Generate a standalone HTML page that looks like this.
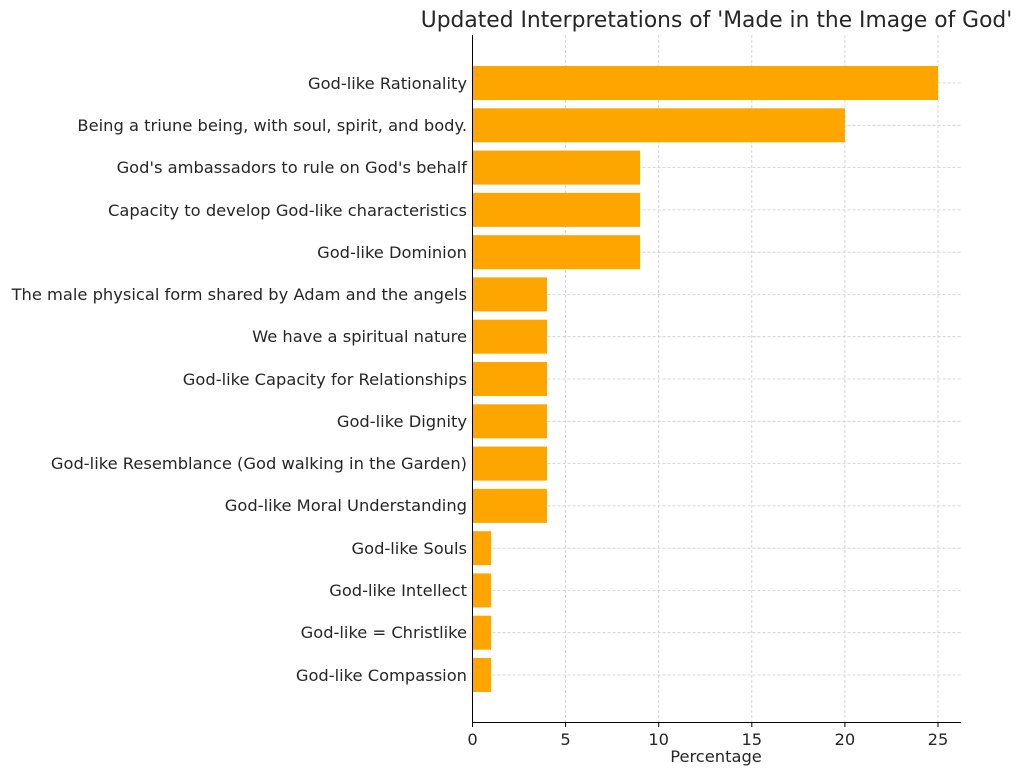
<!DOCTYPE html>
<html><head><meta charset="utf-8"><style>
html,body{margin:0;padding:0;background:#fff}
svg{display:block}
text{font-family:"DejaVu Sans","Liberation Sans",sans-serif;fill:#262626}
</style></head><body>
<svg width="1023" height="775" xmlns="http://www.w3.org/2000/svg">
<rect width="1023" height="775" fill="#fff"/>
<g stroke="#cccccc" stroke-width="0.8" stroke-dasharray="3,2">
<line x1="565.6" y1="35" x2="565.6" y2="722"/>
<line x1="658.7" y1="35" x2="658.7" y2="722"/>
<line x1="751.8" y1="35" x2="751.8" y2="722"/>
<line x1="844.9" y1="35" x2="844.9" y2="722"/>
<line x1="938" y1="35" x2="938" y2="722"/>
<line x1="472.5" y1="83" x2="961" y2="83"/>
<line x1="472.5" y1="125.3" x2="961" y2="125.3"/>
<line x1="472.5" y1="167.6" x2="961" y2="167.6"/>
<line x1="472.5" y1="209.9" x2="961" y2="209.9"/>
<line x1="472.5" y1="252.2" x2="961" y2="252.2"/>
<line x1="472.5" y1="294.4" x2="961" y2="294.4"/>
<line x1="472.5" y1="336.7" x2="961" y2="336.7"/>
<line x1="472.5" y1="379" x2="961" y2="379"/>
<line x1="472.5" y1="421.3" x2="961" y2="421.3"/>
<line x1="472.5" y1="463.6" x2="961" y2="463.6"/>
<line x1="472.5" y1="505.9" x2="961" y2="505.9"/>
<line x1="472.5" y1="548.2" x2="961" y2="548.2"/>
<line x1="472.5" y1="590.4" x2="961" y2="590.4"/>
<line x1="472.5" y1="632.7" x2="961" y2="632.7"/>
<line x1="472.5" y1="675" x2="961" y2="675"/>
</g>
<g fill="#ffa500">
<rect x="472.5" y="66" width="465.5" height="34"/>
<rect x="472.5" y="108.3" width="372.4" height="34"/>
<rect x="472.5" y="150.6" width="167.6" height="34"/>
<rect x="472.5" y="192.9" width="167.6" height="34"/>
<rect x="472.5" y="235.2" width="167.6" height="34"/>
<rect x="472.5" y="277.4" width="74.5" height="34"/>
<rect x="472.5" y="319.7" width="74.5" height="34"/>
<rect x="472.5" y="362" width="74.5" height="34"/>
<rect x="472.5" y="404.3" width="74.5" height="34"/>
<rect x="472.5" y="446.6" width="74.5" height="34"/>
<rect x="472.5" y="488.9" width="74.5" height="34"/>
<rect x="472.5" y="531.2" width="18.6" height="34"/>
<rect x="472.5" y="573.4" width="18.6" height="34"/>
<rect x="472.5" y="615.7" width="18.6" height="34"/>
<rect x="472.5" y="658" width="18.6" height="34"/>
</g>
<g stroke="#000" stroke-width="1">
<line x1="472.5" y1="35" x2="472.5" y2="722.5"/>
<line x1="472" y1="722.5" x2="961" y2="722.5"/>
<line x1="472.5" y1="722.5" x2="472.5" y2="727"/>
<line x1="565.6" y1="722.5" x2="565.6" y2="727"/>
<line x1="658.7" y1="722.5" x2="658.7" y2="727"/>
<line x1="751.8" y1="722.5" x2="751.8" y2="727"/>
<line x1="844.9" y1="722.5" x2="844.9" y2="727"/>
<line x1="938" y1="722.5" x2="938" y2="727"/>
</g>
<g font-size="16.3" text-anchor="end">
<text x="467" y="89">God-like Rationality</text>
<text x="467" y="131">Being a triune being, with soul, spirit, and body.</text>
<text x="467" y="173">God's ambassadors to rule on God's behalf</text>
<text x="467" y="216">Capacity to develop God-like characteristics</text>
<text x="467" y="258">God-like Dominion</text>
<text x="467" y="300">The male physical form shared by Adam and the angels</text>
<text x="467" y="342">We have a spiritual nature</text>
<text x="467" y="385">God-like Capacity for Relationships</text>
<text x="467" y="427">God-like Dignity</text>
<text x="467" y="469">God-like Resemblance (God walking in the Garden)</text>
<text x="467" y="511">God-like Moral Understanding</text>
<text x="467" y="554">God-like Souls</text>
<text x="467" y="596">God-like Intellect</text>
<text x="467" y="638">God-like = Christlike</text>
<text x="467" y="681">God-like Compassion</text>
</g>
<g font-size="16.3" text-anchor="middle">
<text x="472.5" y="745">0</text>
<text x="565.6" y="745">5</text>
<text x="658.7" y="745">10</text>
<text x="751.8" y="745">15</text>
<text x="844.9" y="745">20</text>
<text x="938" y="745">25</text>
<text x="716" y="762">Percentage</text>
<text x="716.5" y="27" font-size="21.8">Updated Interpretations of 'Made in the Image of God'</text>
</g>
</svg>
</body></html>
